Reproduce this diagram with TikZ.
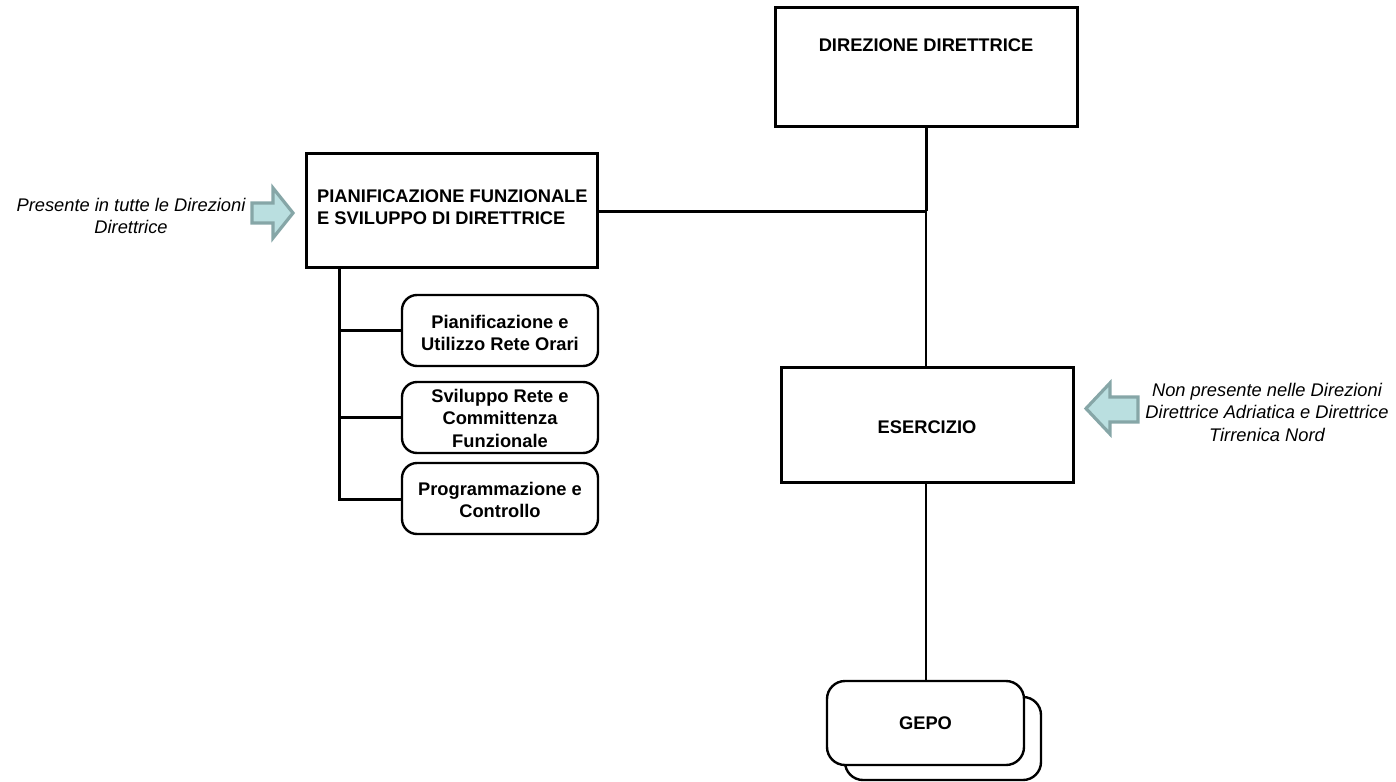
\documentclass[tikz,border=0pt]{standalone}
\usepackage{fontspec}
\setmainfont{Liberation Sans}
\definecolor{arrfill}{HTML}{BADFE0}
\definecolor{arrline}{HTML}{86A6A7}
\begin{document}
\begin{tikzpicture}[x=1pt,y=-1pt,
  boxtxt/.style={font=\fontsize{18.3}{22.5}\selectfont\bfseries, align=center, inner sep=0pt},
  sidetxt/.style={font=\fontsize{18.3}{22.5}\selectfont\itshape, align=center, inner sep=0pt},
  sqbox/.style={draw, line width=3pt, fill=white, inner sep=0pt},
  rdbox/.style={draw, line width=2.4pt, fill=white, rounded corners=15pt, inner sep=0pt},
  thickline/.style={line width=3pt},
  thinline/.style={line width=1.6pt},
  fatarrow/.style={draw=arrline, fill=arrfill, line width=3.2pt, line join=miter}
]
\useasboundingbox (0,0) rectangle (1396,781);

% main boxes
\node[sqbox, minimum width=302pt, minimum height=118pt] (dir) at (926,67) {};
\node[boxtxt, anchor=base] (dirt) at (926,52) {DIREZIONE DIRETTRICE};

\node[sqbox, minimum width=291pt, minimum height=114pt] (pian) at (451.5,210) {};
\node[boxtxt, align=left, anchor=west] (piant) at (317,207) {PIANIFICAZIONE FUNZIONALE\\E SVILUPPO DI DIRETTRICE};

\node[sqbox, minimum width=292pt, minimum height=115pt] (eser) at (927,424.5) {};
\node[boxtxt] (esert) at (927,427) {ESERCIZIO};

% sub boxes
\node[rdbox, minimum width=196pt, minimum height=71pt] (s1) at (500,330.5) {};
\node[boxtxt] (s1t) at (500,333) {Pianificazione e\\Utilizzo Rete Orari};
\node[rdbox, minimum width=196pt, minimum height=71pt] (s2) at (500,417.5) {};
\node[boxtxt] (s2t) at (500,418) {Sviluppo Rete e\\Committenza\\Funzionale};
\node[rdbox, minimum width=196pt, minimum height=71pt] (s3) at (500,498.5) {};
\node[boxtxt] (s3t) at (500,500) {Programmazione e\\Controllo};

% GEPO
\node[rdbox, rounded corners=18pt, minimum width=196pt, minimum height=83pt] (gepob) at (943,738.5) {};
\node[rdbox, rounded corners=18pt, minimum width=197pt, minimum height=84pt] (gepo) at (925.5,723) {};
\node[boxtxt] (gepot) at (925.5,723) {GEPO};

% connectors
\coordinate (jn) at (926,211);
\draw[thickline] (dir.south -| jn) -- (jn);
\draw[thickline] (pian.east |- jn) -- (jn);
\draw[thinline] (jn) -- (eser.north -| jn);
\draw[thinline] (eser.south -| jn) -- (gepo.north -| jn);

\coordinate (vt) at (339,267);
\coordinate (vb) at (339,499);
\draw[thickline] (vt) -- (vb) -- (s3.west |- vb);
\draw[thickline] (vt |- s1.west) -- (s1.west);
\draw[thickline] (vt |- s2.west) -- (s2.west);

% side arrows
\draw[fatarrow] (252,203) -- (273,203) -- (273,188) -- (293,213) -- (273,238) -- (273,223) -- (252,223) -- cycle;
\draw[fatarrow] (1138,397) -- (1110,397) -- (1110,383) -- (1086,408.5) -- (1110,434) -- (1110,422) -- (1138,422) -- cycle;

% side texts
\node[sidetxt] (lt) at (131,216) {Presente in tutte le Direzioni\\Direttrice};
\node[sidetxt] (rt) at (1267,412) {Non presente nelle Direzioni\\Direttrice Adriatica e Direttrice\\Tirrenica Nord};
\end{tikzpicture}
\end{document}
